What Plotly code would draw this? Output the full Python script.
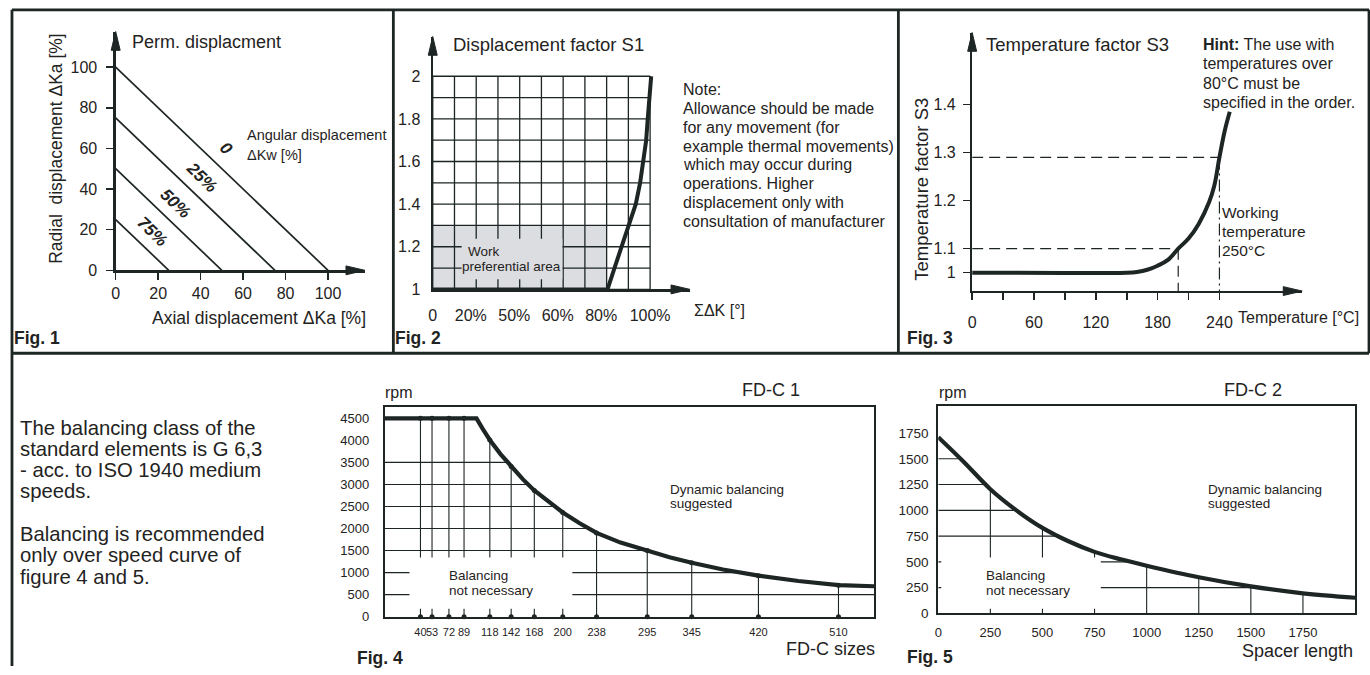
import numpy as np
import plotly.graph_objects as go

W, H = 1370, 675
INK = '#1d2624'
TXT = '#1f2322'
GRAY = '#dcdde0'
FONT = 'Liberation Sans, Arial, Helvetica, sans-serif'

# ---------------- data ----------------
# Fig. 1 - permissible displacement, one line per angular displacement share
angular_labels = ['0', '25%', '50%', '75%']
radial_limit = [100, 75, 50, 25]
axial_limit = [100, 75, 50, 25]
fig1_ticks = [0, 20, 40, 60, 80, 100]

# Fig. 2 - displacement factor S1
s1_dk = [0, 80.4, 83.6, 87.0, 90.2, 93.4, 95.4, 96.9, 98.2, 98.9, 99.7, 100.5]
s1_val = [1.0, 1.0, 1.1, 1.2, 1.3, 1.4, 1.5, 1.6, 1.7, 1.8, 1.9, 2.0]
s1_xtick_pos = [0, 17.5, 37.5, 57.5, 77.5, 100]
s1_xtick_text = ['0', '20%', '50%', '60%', '80%', '100%']
s1_yticks = [1, 1.2, 1.4, 1.6, 1.8, 2]
s1_grid_x = [0, 10, 20, 30, 40, 50, 60, 70, 80, 90, 100]
s1_grid_y = [1.0, 1.1, 1.2, 1.3, 1.4, 1.5, 1.6, 1.7, 1.8, 1.9, 2.0]
pref_x = [0, 80]
pref_y = [1.0, 1.3]

# Fig. 3 - temperature factor S3
s3_temp = [0, 150, 160, 170, 180, 190, 200, 210, 220, 230, 235, 240, 245, 250]
s3_val = [1.0, 1.0, 1.003, 1.012, 1.029, 1.053, 1.1, 1.121, 1.152, 1.197, 1.231, 1.29, 1.344, 1.385]
s3_work_temp = [200, 240]
s3_work_val = [1.1, 1.29]
s3_yticks = [1, 1.1, 1.2, 1.3, 1.4]
s3_xticks = [0, 30, 60, 90, 120, 150, 180, 210, 240]
s3_xlabels = ['0', '', '60', '', '120', '', '180', '', '240']

# Fig. 4 - FD-C 1 speed limit vs size
fdc1_size = [0, 103, 110, 118, 130, 142, 155, 168, 184, 200, 219, 238, 265, 295, 320, 345, 380, 420, 465, 510, 550]
fdc1_rpm = [4500, 4500, 4260, 4010, 3690, 3405, 3120, 2865, 2600, 2365, 2120, 1900, 1680, 1500, 1350, 1225, 1070, 930, 810, 715, 690]
fdc1_sizes = [40, 53, 72, 89, 118, 142, 168, 200, 238, 295, 345, 420, 510]
fdc1_grid = [500, 1000, 1500, 2000, 2500, 3000, 3500]
fdc1_yticks = [0, 500, 1000, 1500, 2000, 2500, 3000, 3500, 4000, 4500]

# Fig. 5 - FD-C 2 speed limit vs spacer length
fdc2_len = [0, 125, 250, 375, 500, 625, 750, 875, 1000, 1250, 1500, 1750, 2000]
fdc2_rpm = [1710, 1465, 1205, 1000, 830, 700, 597, 525, 463, 351, 262, 195, 152]
fdc2_marks = [250, 500, 750, 1000, 1250, 1500, 1750]
fdc2_grid = [250, 500, 750, 1000, 1250, 1500]
fdc2_yticks = [0, 250, 500, 750, 1000, 1250, 1500, 1750]
fdc2_xticks = [0, 250, 500, 750, 1000, 1250, 1500, 1750]


# ---------------- helpers ----------------
def dom_x(left, right):
    return [left / W, right / W]


def dom_y(top, bottom):
    return [1 - bottom / H, 1 - top / H]


def s3_disp(v):
    # the original chart compresses the scale below S3 = 1.1
    v = np.asarray(v, dtype=float)
    return np.where(v >= 1.1, v, 1.1 - (1.1 - v) * 0.5)


ann = []
shapes = []


def txt(s, x, y, size, xanchor='left', yanchor='middle', family=FONT, angle=0, color=TXT):
    shift = {'left': -3, 'right': 3, 'center': 0}[xanchor]
    ann.append(dict(text=s, x=x / W, y=1 - y / H, xref='paper', yref='paper', xshift=shift,
                    xanchor=xanchor, yanchor=yanchor, showarrow=False, textangle=angle,
                    font=dict(family=family, size=size, color=color)))


def lines(ls, x, y0, dy, size, **kw):
    for i, s in enumerate(ls):
        txt(s, x, y0 + i * dy, size, **kw)


def pline(x0, y0, x1, y1, w=2.8):
    shapes.append(dict(type='line', xref='paper', yref='paper', x0=x0 / W, y0=1 - y0 / H,
                       x1=x1 / W, y1=1 - y1 / H, line=dict(color=INK, width=w)))


def prect(x0, y0, x1, y1, fill):
    shapes.append(dict(type='rect', xref='paper', yref='paper', x0=x0 / W, y0=1 - y0 / H,
                       x1=x1 / W, y1=1 - y1 / H, fillcolor=fill, line=dict(width=0), layer='above'))


def arrow(tx, ty, direction, length=19, half=4.5):
    if direction == 'up':
        pts = [(tx, ty), (tx - half, ty + length), (tx + half, ty + length)]
    else:
        pts = [(tx, ty), (tx - length, ty - half), (tx - length, ty + half)]
    path = 'M ' + ' L '.join(f'{x / W:.6f},{1 - y / H:.6f}' for x, y in pts) + ' Z'
    shapes.append(dict(type='path', xref='paper', yref='paper', path=path,
                       fillcolor=INK, line=dict(color=INK, width=1), layer='above'))


fig = go.Figure()


def add(x, y, xa, ya, width=1.2, dash=None, mode='lines', marker=None, shape='linear', clip=True):
    fig.add_trace(go.Scatter(x=x, y=y, xaxis=xa, yaxis=ya, mode=mode, cliponaxis=clip,
                             line=dict(color=INK, width=width, dash=dash, shape=shape),
                             marker=marker, hoverinfo='skip', showlegend=False))


# ---------------- Fig. 1 ----------------
for r, a in zip(radial_limit, axial_limit):
    add([0, a], [r, 0], 'x', 'y', width=1.7)

# ---------------- Fig. 2 ----------------
shapes.append(dict(type='rect', xref='x2', yref='y2', x0=pref_x[0], x1=pref_x[1],
                   y0=pref_y[0], y1=pref_y[1], fillcolor=GRAY, line=dict(width=0), layer='below'))
gx, gy = [], []
for v in s1_grid_x:
    gx += [v, v, None]
    gy += [s1_grid_y[0], s1_grid_y[-1], None]
for v in s1_grid_y:
    gx += [s1_grid_x[0], s1_grid_x[-1], None]
    gy += [v, v, None]
add(gx, gy, 'x2', 'y2', width=1.3)
add(s1_dk, s1_val, 'x2', 'y2', width=4)

# ---------------- Fig. 3 ----------------
y3_min = 1.1 - (295 - 252) / 486.7
y3_max = 1.1 + (252 - 33) / 486.7
add([0, s3_work_temp[0]], list(s3_disp([s3_work_val[0]] * 2)), 'x3', 'y3', width=1.2, dash='11px,6px')
add([0, s3_work_temp[1]], list(s3_disp([s3_work_val[1]] * 2)), 'x3', 'y3', width=1.2, dash='11px,6px')
add([s3_work_temp[0]] * 2, [float(s3_disp(s3_work_val[0])), y3_min], 'x3', 'y3', width=1.2, dash='11px,6px')
add([s3_work_temp[1]] * 2, [float(s3_disp(s3_work_val[1])), y3_min], 'x3', 'y3', width=1.2, dash='12px,4px,2px,4px')
add(s3_temp, list(s3_disp(s3_val)), 'x3', 'y3', width=4, shape='spline')

# ---------------- Fig. 4 ----------------
rpm_rev = fdc1_rpm[::-1]
size_rev = fdc1_size[::-1]
hx, hy = [], []
for v in fdc1_grid:
    hx += [0, float(np.interp(v, rpm_rev, size_rev)), None]
    hy += [v, v, None]
tops4 = [float(np.interp(s, fdc1_size, fdc1_rpm)) for s in fdc1_sizes]
for s, t in zip(fdc1_sizes, tops4):
    hx += [s, s, None]
    hy += [0, t, None]
add(hx, hy, 'x4', 'y4', width=1.1)
add(fdc1_size, fdc1_rpm, 'x4', 'y4', width=4.2)
add(fdc1_sizes * 2, [0] * len(fdc1_sizes) + tops4, 'x4', 'y4', mode='markers',
    marker=dict(size=5, color=INK), clip=False)

# ---------------- Fig. 5 ----------------
rpm2_rev = fdc2_rpm[::-1]
len2_rev = fdc2_len[::-1]
hx, hy = [], []
for v in fdc2_grid:
    hx += [0, float(np.interp(v, rpm2_rev, len2_rev)), None]
    hy += [v, v, None]
for s in fdc2_marks:
    hx += [s, s, None]
    hy += [0, float(np.interp(s, fdc2_len, fdc2_rpm)), None]
add(hx, hy, 'x5', 'y5', width=1.1)
add(fdc2_len, fdc2_rpm, 'x5', 'y5', width=4.2, shape='spline')

# ---------------- boxes behind labels ----------------
prect(459, 242, 560, 283, GRAY)        # Fig. 2 label box
prect(406.7, 565, 570, 617, 'white')   # Fig. 4 label box
prect(940, 565, 1100, 617, 'white')    # Fig. 5 label box

# ---------------- frame ----------------
pline(8, 10, 1369, 10)
pline(8, 10, 8, 675)
pline(1369, 10, 1369, 358)
pline(8, 358, 1369, 358)
pline(390.5, 10, 390.5, 358)
pline(897, 10, 897, 358)

# ---------------- arrows ----------------
arrow(112, 32, 'up')
arrow(362, 274, 'right')
arrow(430, 37, 'up')
arrow(688, 293.3, 'right')
arrow(971, 33, 'up')
arrow(1302, 295, 'right')

# ---------------- texts ----------------
# Fig. 1
txt('Perm. displacment', 129, 43, 18)
txt('Radial  displacement \u0394Ka [%]', 52, 150, 17.5, xanchor='center', angle=-90)
txt('Axial displacement \u0394Ka [%]', 256, 322, 17.5, xanchor='center')
lines(['Angular displacement', '\u0394Kw [%]'], 245, 137, 20, 14.5)
for lab, (lx, ly) in zip(angular_labels, [(222.7, 150.7), (198.3, 180), (171.7, 206.7), (148.3, 235)]):
    txt('<b><i>' + lab + '</i></b>', lx, ly, 17, xanchor='center', angle=44)
txt('<b>Fig. 1</b>', 11, 343, 17.5)

# Fig. 2
txt('Displacement factor S1', 451, 45, 18.5)
lines(['Note:', 'Allowance should be made', 'for any movement (for',
       'example thermal movements)', 'which may occur during', 'operations. Higher',
       'displacement only with', 'consultation of manufacturer'], 682, 90.7, 19.1, 16)
txt('\u03a3\u0394K [\u00b0]', 693, 315, 16)
txt('Work', 466.7, 255, 13.5)
txt('preferential area', 460, 270, 13.5)
txt('<b>Fig. 2</b>', 393, 343, 17.5)

# Fig. 3
txt('Temperature factor S3', 985.7, 45, 18.5)
lines(['<b>Hint:</b> The use with', 'temperatures over', '80\u00b0C must be',
       'specified in the order.'], 1203.3, 45, 19.6, 16)
lines(['Working', 'temperature', '250\u00b0C'], 1222.7, 215, 19.5, 15.5)
txt('Temperature [\u00b0C]', 1238.3, 322, 16)
txt('Temperature factor S3', 920, 192, 18.5, xanchor='center', angle=-90)
txt('<b>Fig. 3</b>', 907, 343, 17.5)

# Fig. 4
txt('rpm', 383, 398, 16)
txt('FD-C 1', 769, 395, 18, xanchor='center')
lines(['Dynamic balancing', 'suggested'], 669, 495.7, 14.5, 13.5)
lines(['Balancing', 'not necessary'], 447, 583.3, 15, 13.5)
txt('FD-C sizes', 872.6, 658, 18, xanchor='right')
txt('<b>Fig. 4</b>', 355, 667, 17.5)

# Fig. 5
txt('rpm', 938.3, 398, 16)
txt('FD-C 2', 1252.5, 395, 18, xanchor='center')
lines(['Dynamic balancing', 'suggested'], 1208.3, 495.7, 14.5, 13.5)
lines(['Balancing', 'not necessary'], 986, 583.3, 15, 13.5)
txt('Spacer length', 1352.3, 660, 18, xanchor='right')
txt('<b>Fig. 5</b>', 906.7, 666, 17.5)

# Left description
lines(['The balancing class of the', 'standard elements is G 6,3', '- acc. to ISO 1940 medium',
       'speeds.', '', 'Balancing is recommended', 'only over speed curve of',
       'figure 4 and 5.'], 16.7, 433.3, 21.6, 20.3)

# ---------------- axes ----------------
common = dict(showgrid=False, zeroline=False, fixedrange=True)
tick_font = dict(family=FONT, size=16, color=TXT)

layout = dict(width=W, height=H, margin=dict(l=0, r=0, t=0, b=0), autosize=False,
              paper_bgcolor='white', plot_bgcolor='rgba(0,0,0,0)', showlegend=False,
              hovermode=False, annotations=ann, shapes=shapes)

# Fig. 1
layout['xaxis'] = dict(**common, domain=dom_x(112, 362), range=[0, (362 - 112) / 2.13], anchor='y',
                       showline=True, linecolor=INK, linewidth=2.2, ticks='outside', ticklen=7,
                       tickwidth=1.6, tickcolor=INK, tickvals=fig1_ticks, tickangle=0,
                       ticktext=[str(v) for v in fig1_ticks], tickfont=tick_font)
layout['yaxis'] = dict(**common, domain=dom_y(32, 274), range=[0, (274 - 32) / 2.06], anchor='x',
                       showline=True, linecolor=INK, linewidth=2.2, ticks='outside', ticklen=7,
                       tickwidth=1.6, tickcolor=INK, tickvals=fig1_ticks, ticklabelstandoff=6,
                       ticktext=[str(v) for v in fig1_ticks], tickfont=tick_font)
# Fig. 2
layout['xaxis2'] = dict(**common, domain=dom_x(430, 688), range=[0, (688 - 430) / 2.18], anchor='y2',
                        showline=True, linecolor=INK, linewidth=2.2, ticks='outside', ticklen=8,
                        tickcolor='rgba(0,0,0,0)', tickvals=s1_xtick_pos, ticktext=s1_xtick_text,
                        tickangle=0, ticklabelstandoff=2, tickfont=tick_font)
layout['yaxis2'] = dict(**common, domain=dom_y(37, 293.3), range=[1, 1 + (293.3 - 37) / 216], anchor='x2',
                        showline=True, linecolor=INK, linewidth=2.2, ticks='outside', ticklen=4,
                        tickcolor='rgba(0,0,0,0)', tickvals=s1_yticks, ticklabelstandoff=3,
                        ticktext=['1', '1.2', '1.4', '1.6', '1.8', '2'], tickfont=tick_font)
# Fig. 3
layout['xaxis3'] = dict(**common, domain=dom_x(971, 1302), range=[0, (1302 - 971) / 1.0333], anchor='y3',
                        showline=True, linecolor=INK, linewidth=2.2, ticks='outside', ticklen=7,
                        tickwidth=1.6, tickcolor=INK, tickvals=s3_xticks, ticktext=s3_xlabels,
                        tickangle=0, ticklabelstandoff=9, tickfont=tick_font)
layout['yaxis3'] = dict(**common, domain=dom_y(33, 295), range=[y3_min, y3_max], anchor='x3',
                        showline=True, linecolor=INK, linewidth=2.2, ticks='outside', ticklen=7,
                        tickwidth=1.6, tickcolor=INK, tickvals=list(s3_disp(s3_yticks)),
                        ticklabelstandoff=4,
                        ticktext=['1', '1.1', '1.2', '1.3', '1.4'], tickfont=tick_font)
# Fig. 4
layout['xaxis4'] = dict(**common, domain=dom_x(382, 872.6), range=[0, 550], anchor='y4',
                        showline=True, mirror=True, linecolor=INK, linewidth=2, ticks='',
                        tickvals=fdc1_sizes, ticktext=[str(v) for v in fdc1_sizes], tickangle=0,
                        ticklabelstandoff=4, tickfont=dict(family=FONT, size=11, color=TXT))
layout['yaxis4'] = dict(**common, domain=dom_y(412.7, 625), range=[0, (625 - 412.7) / (201 / 4500)],
                        anchor='x4', showline=True, mirror=True, linecolor=INK, linewidth=2, ticks='',
                        tickvals=fdc1_yticks, ticktext=[str(v) for v in fdc1_yticks],
                        ticklabelstandoff=11, tickfont=dict(family=FONT, size=13, color=TXT))
# Fig. 5
layout['xaxis5'] = dict(**common, domain=dom_x(937, 1355), range=[0, 2000], anchor='y5',
                        showline=True, mirror=True, linecolor=INK, linewidth=2, ticks='',
                        tickvals=fdc2_xticks, ticktext=[str(v) for v in fdc2_xticks], tickangle=0,
                        ticklabelstandoff=6, tickfont=dict(family=FONT, size=13, color=TXT))
layout['yaxis5'] = dict(**common, domain=dom_y(411, 621.7), range=[0, (621.7 - 411) / 0.10447],
                        anchor='x5', showline=True, mirror=True, linecolor=INK, linewidth=2, ticks='',
                        tickvals=fdc2_yticks, ticktext=[str(v) for v in fdc2_yticks],
                        ticklabelstandoff=5, tickfont=dict(family=FONT, size=13.5, color=TXT))

fig.update_layout(**layout)
fig.write_html('out.html', config={'displayModeBar': False, 'staticPlot': True},
               post_script="document.body.style.margin='0';document.body.style.overflow='hidden';")
